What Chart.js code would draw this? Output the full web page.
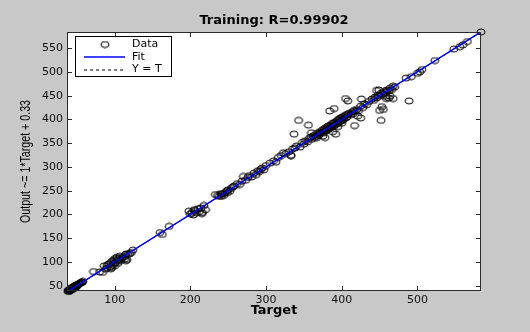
<!DOCTYPE html>
<html>
<head>
<meta charset="utf-8">
<script src="https://cdn.jsdelivr.net/npm/chart.js@4.4.1/dist/chart.umd.min.js"></script>
<style>
  html, body { margin: 0; padding: 0; background: #c8c8c8; }
  canvas { display: block; }
</style>
</head>
<body>
<canvas id="grafico" width="530" height="332"></canvas>
<script>
// valores (Target -> Output)
const targets = [
  38,39,40,40,41,41,42,42,43,43,44,44,45,45,46,46,47,47,48,48,49,49,50,50,51,52,53,54,55,56,57,58,39,41,43,45,47,49,44,46,
  72,80,84,86,88,90,92,94,95,96,97,98,99,100,101,102,103,104,105,106,107,108,110,112,113,114,115,116,118,120,122,124,90,95,100,115,
  160,163,172,
  198,200,202,204,206,208,210,212,214,216,218,220,205,215,
  233,236,238,240,242,244,246,248,250,252,254,256,258,241,249,
  262,265,268,270,273,276,278,281,284,287,289,291,293,295,297,300,
  305,310,313,316,320,323,326,330,333,335,338,340,
  345,348,350,352,355,357,359,360,362,364,365,367,368,370,371,372,374,375,376,377,
  378,379,380,381,382,383,384,385,386,387,388,389,390,391,392,393,394,395,396,397,
  398,399,400,401,402,403,404,405,406,407,408,410,412,414,415,416,418,420,
  343,337,356,367,384,390,392,405,408,333,417,425,426,360,378,
  421,388,464,458,453,375,395,400,
  422,425,428,430,433,436,440,442,444,446,448,450,452,454,456,458,460,462,464,466,468,470,
  446,452,455,450,459,468,462,489,449,
  485,492,500,503,506,523,548,556,560,566,584
];
const outputs = [
  39,38,41,40,40,43,42,44,42,45,43,46,44,47,45,48,46,49,47,50,48,51,49,52,52,53,54,55,56,57,58,59,41,42,44,46,48,50,43,47,
  80,79,78,92,85,93,96,90,99,88,102,95,105,98,108,100,110,97,107,104,112,103,109,111,106,114,117,105,116,118,120,125,88,86,92,103,
  162,158,175,
  207,201,204,199,208,203,212,206,214,204,219,210,210,202,
  242,240,238,244,243,240,246,250,252,249,255,258,260,238,246,
  265,263,270,280,272,278,282,279,287,284,292,290,295,298,294,303,
  308,313,310,320,324,330,328,332,324,338,340,344,
  342,352,348,355,353,360,363,358,365,362,368,365,371,368,374,372,377,371,379,375,
  381,376,383,378,386,380,387,382,389,385,392,386,393,388,395,391,398,392,400,395,
  402,397,404,398,406,401,408,403,410,405,411,413,410,416,412,419,417,421,
  398,369,388,362,418,423,369,444,439,324,387,403,443,372,362,
  407,374,449,449,427,365,385,392,
  418,428,425,433,431,438,443,440,447,445,451,449,455,453,459,457,462,460,466,463,470,468,
  461,398,421,419,444,444,445,439,462,
  487,490,497,500,505,524,548,553,557,564,584
];

const xTicks = [100, 200, 300, 400, 500];
const yTicks = [50, 100, 150, 200, 250, 300, 350, 400, 450, 500, 550];
const xRange = [37, 584];
const yRange = [39, 584];

const fitSlope = 1;
const fitIntercept = 0.33;
const rValue = '0.99902';

const titulo = 'Training: R=' + rValue;
const tituloX = 'Target';
const tituloY = 'Output ~= 1*Target + 0.33';

const puntos = targets.map((t, i) => ({ x: t, y: outputs[i] }));
const lineaFit = xRange.map(t => ({ x: t, y: fitSlope * t + fitIntercept }));
const lineaYT = xRange.map(t => ({ x: t, y: t }));

// marcador: circulo algo ovalado como en la imagen
function crearMarcador() {
  const c = document.createElement('canvas');
  c.width = 10; c.height = 8;
  const g = c.getContext('2d');
  g.strokeStyle = '#000000';
  g.lineWidth = 1;
  g.beginPath();
  g.ellipse(5, 4, 4, 3, 0, 0, Math.PI * 2);
  g.stroke();
  return c;
}
const marcador = crearMarcador();

const fondo = {
  id: 'fondo',
  beforeDraw(chart) {
    const { ctx, chartArea: a } = chart;
    ctx.save();
    ctx.fillStyle = '#c8c8c8';
    ctx.fillRect(0, 0, chart.width, chart.height);
    ctx.fillStyle = '#ffffff';
    ctx.fillRect(a.left, a.top, a.right - a.left, a.bottom - a.top);
    ctx.restore();
  }
};

// caja, ticks hacia dentro, titulos y leyenda estilo matlab
const caja = {
  id: 'caja',
  afterDraw(chart) {
    const { ctx, chartArea: a, scales: { x, y } } = chart;
    ctx.save();
    ctx.strokeStyle = '#2b2b2b';
    ctx.lineWidth = 1;
    ctx.strokeRect(a.left + 0.5, a.top + 0.5, a.right - a.left - 1, a.bottom - a.top - 1);
    ctx.beginPath();
    xTicks.forEach(v => {
      const px = Math.round(x.getPixelForValue(v)) + 0.5;
      ctx.moveTo(px, a.bottom); ctx.lineTo(px, a.bottom - 5);
      ctx.moveTo(px, a.top); ctx.lineTo(px, a.top + 5);
    });
    yTicks.forEach(v => {
      const py = Math.round(y.getPixelForValue(v)) + 0.5;
      ctx.moveTo(a.left, py); ctx.lineTo(a.left + 5, py);
      ctx.moveTo(a.right, py); ctx.lineTo(a.right - 5, py);
    });
    ctx.stroke();

    const cx = (a.left + a.right) / 2;
    const cy = (a.top + a.bottom) / 2;
    ctx.fillStyle = '#000000';
    ctx.textAlign = 'center';
    ctx.textBaseline = 'middle';
    ctx.font = 'bold 13px "DejaVu Sans"';
    ctx.fillText(titulo, cx, 20.5);
    ctx.fillText(tituloX, cx, 311);

    // titulo eje y, estrecho
    ctx.save();
    ctx.font = '15px "Liberation Sans", Arial';
    const ancho = ctx.measureText(tituloY).width;
    ctx.translate(25.5, cy);
    ctx.rotate(-Math.PI / 2);
    ctx.scale(123 / ancho, 1);
    ctx.fillText(tituloY, 0, 0);
    ctx.restore();

    // leyenda
    const ds = chart.data.datasets;
    const lx = 75.5, ly = 36.5, lw = 96, lh = 40;
    ctx.fillStyle = '#ffffff';
    ctx.fillRect(lx, ly, lw, lh);
    ctx.strokeStyle = '#000000';
    ctx.strokeRect(lx, ly, lw, lh);
    ctx.font = '11px "DejaVu Sans"';
    ctx.textAlign = 'left';
    ctx.fillStyle = '#000000';
    const filas = [44.5, 57, 69.5];
    ctx.drawImage(marcador, 100, 40.5);
    ctx.strokeStyle = '#0000ff';
    ctx.lineWidth = 1.5;
    ctx.beginPath();
    ctx.moveTo(84, filas[1]); ctx.lineTo(125, filas[1]);
    ctx.stroke();
    ctx.strokeStyle = '#000000';
    ctx.lineWidth = 1;
    ctx.setLineDash([3, 3]);
    ctx.beginPath();
    ctx.moveTo(84, filas[2] + 0.5); ctx.lineTo(125, filas[2] + 0.5);
    ctx.stroke();
    ctx.setLineDash([]);
    ds.forEach((d, i) => ctx.fillText(d.label, 132, filas[i]));
    ctx.restore();
  }
};

const ctx = document.getElementById('grafico').getContext('2d');
new Chart(ctx, {
  type: 'scatter',
  data: {
    datasets: [
      {
        label: 'Data',
        data: puntos,
        pointStyle: marcador,
        pointRadius: 4,
        clip: false,
        order: 3
      },
      {
        type: 'line',
        label: 'Fit',
        data: lineaFit,
        borderColor: '#0000ff',
        borderWidth: 1.5,
        pointRadius: 0,
        order: 1
      },
      {
        type: 'line',
        label: 'Y = T',
        data: lineaYT,
        borderColor: '#000000',
        borderWidth: 1,
        borderDash: [3, 3],
        pointRadius: 0,
        order: 2
      }
    ]
  },
  options: {
    responsive: false,
    animation: false,
    layout: { padding: { left: 14, right: 49, top: 32, bottom: 0 } },
    plugins: {
      legend: { display: false },
      tooltip: { enabled: false },
      title: { display: false }
    },
    scales: {
      x: {
        type: 'linear',
        min: xRange[0],
        max: xRange[1],
        afterBuildTicks: s => { s.ticks = xTicks.map(v => ({ value: v })); },
        afterFit: s => { s.height = 41; },
        grid: { display: false, drawTicks: false },
        border: { display: false },
        ticks: {
          color: '#111111',
          padding: 3,
          maxRotation: 0,
          font: { family: 'DejaVu Sans', size: 11 }
        }
      },
      y: {
        type: 'linear',
        min: yRange[0],
        max: yRange[1],
        afterBuildTicks: s => { s.ticks = yTicks.map(v => ({ value: v })); },
        afterFit: s => { s.width = 53; },
        grid: { display: false, drawTicks: false },
        border: { display: false },
        ticks: {
          color: '#111111',
          padding: 4,
          font: { family: 'DejaVu Sans', size: 11 }
        }
      }
    }
  },
  plugins: [fondo, caja]
});
</script>
</body>
</html>
